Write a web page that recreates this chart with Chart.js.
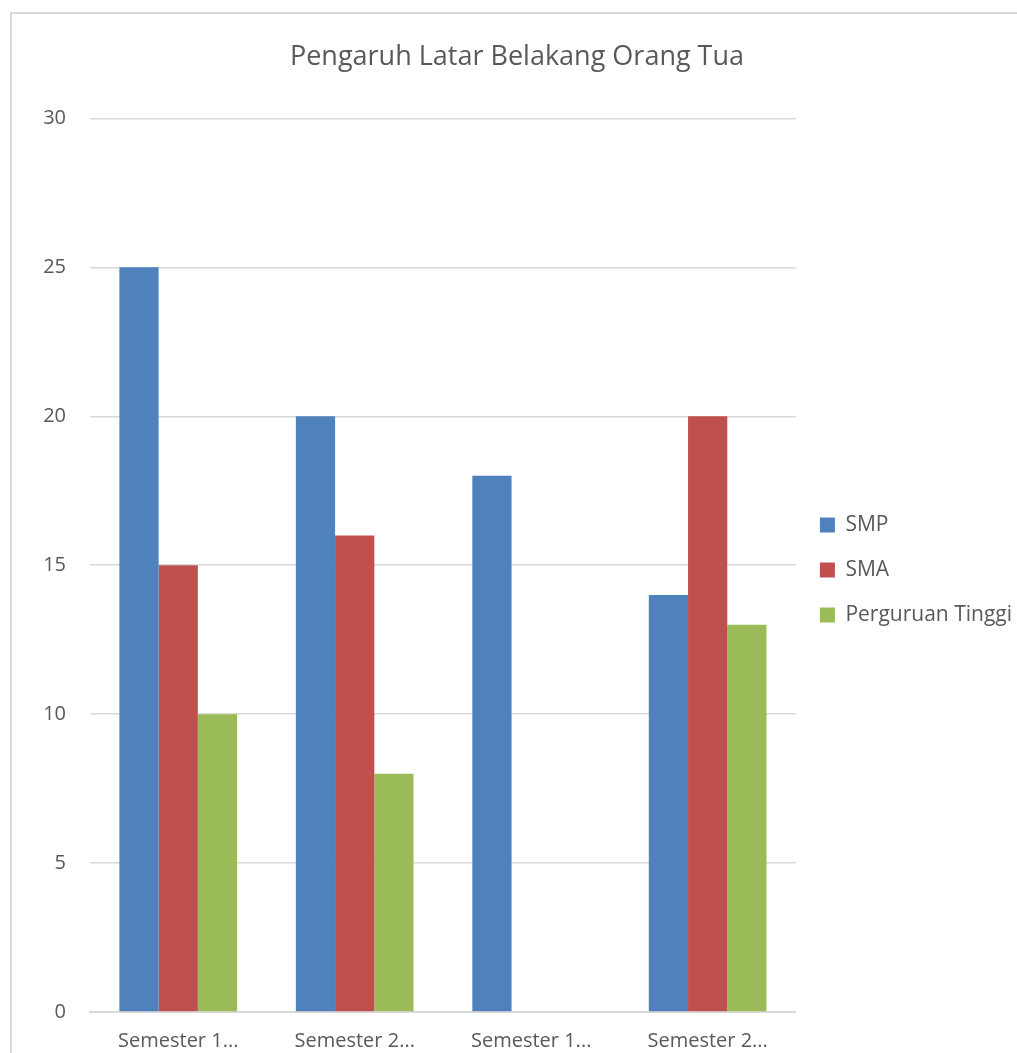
<!DOCTYPE html>
<html>
<head>
<meta charset="utf-8">
<script src="https://cdn.jsdelivr.net/npm/chart.js@4.4.0/dist/chart.umd.min.js"></script>
<style>
  html, body { margin: 0; padding: 0; background: #fff; overflow: hidden; }
  #frame {
    position: absolute; left: 10px; top: 12px;
    width: 1040px; height: 1060px;
    border: 2px solid #d9d9d9; box-sizing: border-box;
  }
  #wrap { position: absolute; left: 12px; top: 14px; width: 1014px; height: 1039px; }
</style>
</head>
<body>
<div id="frame"></div>
<div id="wrap"><canvas id="report1"></canvas></div>
<script>
// data
const categories = ['Semester 1...', 'Semester 2...', 'Semester 1...', 'Semester 2...'];
const smp = [25, 20, 18, 14];
const sma = [15, 16, 0, 20];
const perguruanTinggi = [10, 8, 0, 13];
const yTicks = [0, 5, 10, 15, 20, 25, 30];

const textColor = '#595959';
const fontFamily = '"Open Sans", "Noto Sans", sans-serif';

const ctx = document.getElementById('report1');

new Chart(ctx, {
  type: 'bar',
  data: {
    labels: categories,
    datasets: [
      { label: 'SMP', data: smp, backgroundColor: '#4F81BD' },
      { label: 'SMA', data: sma, backgroundColor: '#C0504D' },
      { label: 'Perguruan Tinggi', data: perguruanTinggi, backgroundColor: '#9BBB59' }
    ]
  },
  options: {
    responsive: true,
    maintainAspectRatio: false,
    animation: false,
    categoryPercentage: 0.667,
    barPercentage: 1.0,
    layout: { padding: { top: 27, right: 4, bottom: 0, left: 0 } },
    plugins: {
      title: {
        display: true,
        text: 'Pengaruh Latar Belakang Orang Tua',
        color: textColor,
        font: { family: fontFamily, size: 27, weight: 'normal' },
        padding: { top: 0, bottom: 45 }
      },
      legend: {
        position: 'right',
        title: {
          display: true,
          text: ' ',
          font: { size: 10 },
          padding: { top: 17, bottom: 17 }
        },
        labels: {
          color: textColor,
          font: { family: fontFamily, size: 21 },
          boxWidth: 15,
          boxHeight: 15,
          padding: 24
        }
      },
      tooltip: { enabled: false }
    },
    scales: {
      x: {
        afterFit: function(scale) { scale.height = 41; },
        grid: { display: false },
        border: { color: '#d9d9d9', width: 2 },
        ticks: {
          color: textColor,
          font: { family: fontFamily, size: 20 },
          padding: 9,
          maxRotation: 0
        }
      },
      y: {
        min: 0,
        max: 30,
        afterFit: function(scale) { scale.width = 78; },
        afterBuildTicks: function(scale) {
          scale.ticks = yTicks.map(function(v) { return { value: v }; });
        },
        grid: { color: '#d9d9d9', lineWidth: 1.5, drawTicks: false },
        border: { display: false },
        ticks: {
          color: textColor,
          font: { family: fontFamily, size: 20 },
          padding: 24
        }
      }
    }
  }
});
</script>
</body>
</html>
